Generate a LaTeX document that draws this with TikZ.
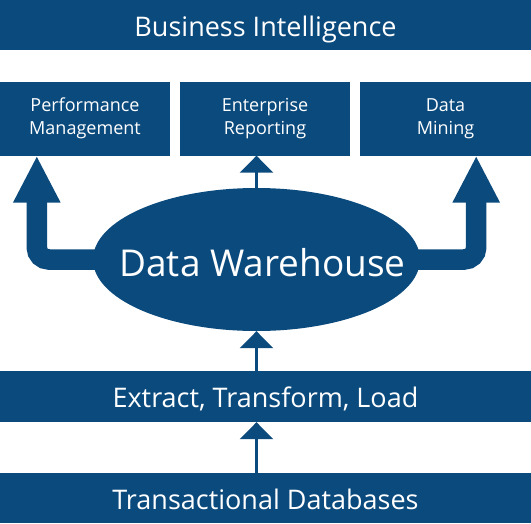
\documentclass[tikz,border=0pt]{standalone}
\usepackage{fontspec}
\setmainfont{Open Sans}
\usepackage{xcolor}
\usepackage{tikz}
\usetikzlibrary{arrows.meta,positioning,shapes.geometric}
\definecolor{dwblue}{HTML}{0B4A7D}

\begin{document}
\begin{tikzpicture}[x=1pt,y=-1pt,
  bar/.style={fill=dwblue,text=white,minimum width=531pt,minimum height=51pt,inner sep=0pt,
    text height=22pt,text depth=0pt,font=\fontsize{27}{30}\selectfont},
  tool/.style={fill=dwblue,text=white,minimum height=74pt,inner sep=0pt,align=center,
    font=\fontsize{18}{22.5}\selectfont},
  smallarrow/.style={dwblue,line width=3.4pt,-{Triangle[width=33pt,length=17pt]}},
  bigarrow/.style={dwblue,line width=20.5pt,rounded corners=12pt,-{Triangle[width=44pt,length=47pt]}}]
\useasboundingbox (0,0) rectangle (531,523);
\node[bar,minimum height=50pt] (bi) at (265.5,25) {Business Intelligence};
\foreach \name/\x/\w/\lab in {
  pm/85/170/{Performance\\Management},
  er/265/170/{Enterprise\\Reporting},
  dm/445.5/171/{Data\\Mining}} {
  \node[tool,minimum width=\w pt] (\name) at (\x,118.5) {\lab};
}
\node[ellipse,fill=dwblue,text=white,minimum width=327pt,minimum height=143pt,inner sep=-40pt,
  text height=33pt,text depth=0pt,font=\fontsize{37}{40}\selectfont] (dw) at (256.5,259.5)
  {\hspace*{12pt}Data Warehouse};
\node[bar] (etl) at (265.5,396.5) {Extract, Transform, Load};
\node[bar,minimum height=50pt] (tdb) at (265.5,498) {Transactional Databases};
\draw[bigarrow] ([xshift=6pt]dw.west) -| ([xshift=37pt]pm.south west);
\draw[bigarrow] ([xshift=-6pt]dw.east) -| ([xshift=-55pt]dm.south east);
\draw[smallarrow] (dw.north) -- (dw.north |- er.south);
\draw[smallarrow] (etl.north -| dw.south) -- (dw.south);
\draw[smallarrow] (tdb.north -| dw.south) -- (etl.south -| dw.south);
\end{tikzpicture}
\end{document}
